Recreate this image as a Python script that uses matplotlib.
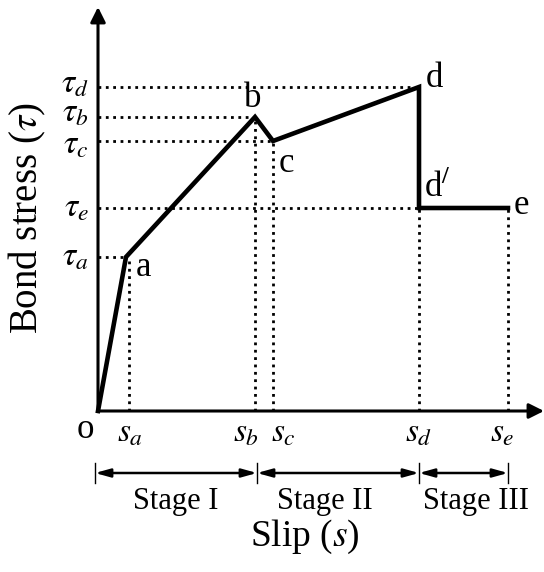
import numpy as np
import matplotlib.pyplot as plt

plt.rcParams['font.family'] = ['Liberation Serif', 'DejaVu Serif']
plt.rcParams['mathtext.fontset'] = 'stix'

# key points of the bond-slip curve (arbitrary units)
points = ['o', 'a', 'b', 'c', 'd', 'd/', 'e']
slip = [0.0, 2.8, 15.7, 17.5, 32.1, 32.1, 41.0]
stress = [0.0, 15.4, 29.4, 27.0, 32.4, 20.3, 20.3]

s_names = ['a', 'b', 'c', 'd', 'e']
s_vals = [2.8, 15.7, 17.5, 32.1, 41.0]
tau_names = ['a', 'b', 'c', 'd', 'e']
tau_vals = [15.4, 29.4, 27.0, 32.4, 20.3]
# where each tau guide stops (slip of the point)
tau_ends = [2.8, 15.7, 17.5, 32.1, 32.1]

stages = ['Stage I', 'Stage II', 'Stage III']
stage_edges = [-0.3, 15.9, 32.1, 41.0]

fig = plt.figure(figsize=(5.44, 5.72), dpi=100)
ax = fig.add_axes([0, 0, 1, 1])
ax.set_xlim(-9.8, 44.6)
ax.set_ylim(-16.1, 41.1)
ax.axis('off')

# axes with arrows
ak = dict(arrowstyle='-|>,head_length=0.9,head_width=0.45', color='k', lw=2.2, shrinkA=0, shrinkB=0)
ax.annotate('', xy=(0, 40.4), xytext=(0, 0), arrowprops=ak)
ax.annotate('', xy=(44.6, 0), xytext=(0, 0), arrowprops=ak)

# dotted guides
for t, xe in zip(tau_vals, tau_ends):
    ax.plot([0, xe], [t, t], ls=':', color='k', lw=2)
for s, t in zip(s_vals, [15.4, 29.4, 27.0, 20.3, 20.3]):
    xs = s + (0.25 if s == 2.8 else 0)
    ax.plot([xs, xs], [0, t], ls=':', color='k', lw=2)

# curve
ax.plot(slip, stress, color='k', lw=3.3, solid_joinstyle='miter')

# point labels
fs = 25
offs = {'a': (1.0, -1.1, 'left', 'center'), 'b': (-0.2, 0.2, 'center', 'bottom'),
        'c': (0.6, -0.6, 'left', 'top'), 'd': (0.7, 0.9, 'left', 'center'),
        'd/': (0.5, 0.3, 'left', 'bottom'), 'e': (0.6, 0.2, 'left', 'center')}
for name, x, y in zip(points, slip, stress):
    if name == 'o':
        ax.text(x - 1.3, y - 1.8, 'o', fontsize=fs, ha='center', va='center')
        continue
    dx, dy, ha, va = offs[name]
    label = r'd$^{/}$' if name == 'd/' else name
    ax.text(x + dx, y + dy, label, fontsize=fs, ha=ha, va=va)

# s tick labels
s_shift = {'a': 0.4, 'b': -0.9, 'c': 1.0, 'd': 0.0, 'e': -0.6}
for n, s in zip(s_names, s_vals):
    ax.text(s + s_shift[n], -0.7, r'$s_{%s}$' % n, fontsize=24, ha='center', va='top')

# tau tick labels
t_shift = {'a': 0, 'b': 0.4, 'c': -0.4, 'd': 0.3, 'e': 0}
for n, t in zip(tau_names, tau_vals):
    ax.text(-0.9, t + t_shift[n], r'$\tau_{%s}$' % n, fontsize=24, ha='right', va='center')

# stage dimension lines
ya = -6.2
for xe in stage_edges:
    ax.plot([xe, xe], [ya - 1.0, ya + 1.0], color='k', lw=1)
dk = dict(arrowstyle='<|-|>,head_length=0.9,head_width=0.25', color='k', lw=1.8, shrinkA=0, shrinkB=0)
lab_shift = [0.0, -1.3, 1.3]
for i, name in enumerate(stages):
    x0, x1 = stage_edges[i], stage_edges[i + 1]
    ax.annotate('', xy=(x1, ya), xytext=(x0, ya), arrowprops=dk)
    ax.text((x0 + x1) / 2 + lab_shift[i], ya - 2.9, name, fontsize=22, ha='center', va='center')

ax.text(20.7, -12.6, r'Slip ($\mathit{s}$)', fontsize=27, ha='center', va='center')
ax.text(-7.1, 19.3, r'Bond stress ($\tau$)', fontsize=28, ha='center', va='center', rotation=90)

fig.savefig('out.png', dpi=100)
